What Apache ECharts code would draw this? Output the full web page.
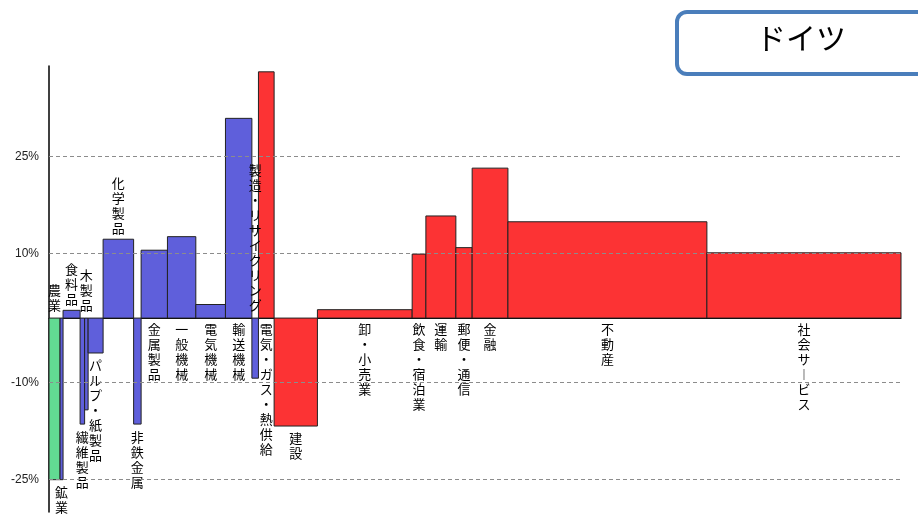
<!DOCTYPE html>
<html>
<head>
<meta charset="utf-8">
<script src="https://cdn.jsdelivr.net/npm/echarts@6/dist/echarts.min.js"></script>
<style>
  html, body { margin: 0; padding: 0; background: #fff; }
  #chart { width: 918px; height: 516px; }
</style>
</head>
<body>
<div id="chart"></div>
<script>
// industries, left to right
const categories = [
  '農業', '鉱業', '食料品', '繊維製品', '木製品', 'パルプ・紙製品', '化学製品',
  '非鉄金属', '金属製品', '一般機械', '電気機械', '輸送機械', '製造・リサイクリング',
  '電気・ガス・熱供給', '建設', '卸・小売業', '飲食・宿泊業', '運輸', '郵便・通信',
  '金融', '不動産', '社会サービス'
];
// bar height: change rate (%)
const growth = [
  -25.0, -25.0, 1.2, -16.4, -14.2, -5.4, 12.2,
  -16.4, 10.5, 12.6, 2.1, 30.9, -9.3,
  38.1, -16.7, 1.3, 9.9, 15.8, 10.9,
  23.2, 14.9, 10.1
];
// bar width: share of the total (%)
const shares = [
  1.30, 0.35, 2.00, 0.53, 0.41, 1.76, 3.58,
  0.88, 3.09, 3.33, 3.48, 3.10, 0.77,
  1.84, 5.08, 11.12, 1.61, 3.52, 1.91,
  4.20, 23.35, 22.78
];
// sector group of each industry
const sectors = [
  'primary', 'mfg', 'mfg', 'mfg', 'mfg', 'mfg', 'mfg',
  'mfg', 'mfg', 'mfg', 'mfg', 'mfg', 'mfg',
  'service', 'service', 'service', 'service', 'service', 'service',
  'service', 'service', 'service'
];
const tickLabels = [-25, -10, 10, 25];

// where each name sits: under the zero line, over it, or past the bar end
const labelSide = [
  'zeroAbove', 'end', 'end', 'end', 'zeroAbove', 'end', 'end',
  'end', 'zeroBelow', 'zeroBelow', 'zeroBelow', 'zeroBelow', 'zeroAbove',
  'zeroBelow', 'end', 'zeroBelow', 'zeroBelow', 'zeroBelow', 'zeroBelow',
  'zeroBelow', 'zeroBelow', 'zeroBelow'
];

const sectorColor = { primary: '#62da92', mfg: '#5f5fdb', service: '#fc3334' };
const jpFont = '"Noto Sans CJK JP", sans-serif';

let acc = 0;
const barData = categories.map((name, i) => {
  const start = acc;
  acc += shares[i];
  return [start, acc, growth[i], i];
});
const total = acc;

function verticalText(s) {
  return s.split('').map(c => (c === 'ー' ? '︱' : c)).join('\n');
}

function renderBar(params, api) {
  const x0 = api.value(0);
  const x1 = api.value(1);
  const v = api.value(2);
  const i = api.value(3);
  const pZero = api.coord([x0, 0]);
  const pEnd = api.coord([x1, v]);
  const left = pZero[0];
  const width = pEnd[0] - pZero[0];
  const y0 = pZero[1];
  const yv = pEnd[1];
  const cx = left + width / 2;

  let ty, va;
  const side = labelSide[i];
  if (side === 'zeroBelow') { ty = y0 + 3; va = 'top'; }
  else if (side === 'zeroAbove') { ty = y0 - 6; va = 'bottom'; }
  else if (v < 0) { ty = yv + 5; va = 'top'; }
  else { ty = yv - 4; va = 'bottom'; }

  return {
    type: 'group',
    children: [
      {
        type: 'rect',
        shape: { x: left, y: Math.min(y0, yv), width: width, height: Math.abs(yv - y0) },
        style: { fill: sectorColor[sectors[i]], stroke: '#222', lineWidth: 1 }
      },
      {
        type: 'text',
        z2: 100,
        style: {
          text: verticalText(categories[i]),
          x: cx, y: ty,
          align: 'center', verticalAlign: va,
          fontSize: 13, lineHeight: 15, fontFamily: jpFont,
          fill: '#000'
        }
      }
    ]
  };
}

const chart = echarts.init(document.getElementById('chart'));
chart.setOption({
  animation: false,
  backgroundColor: '#fff',
  title: {
    text: 'ドイツ',
    left: 801, top: 23, textAlign: 'center', padding: 0,
    textStyle: { fontSize: 30, fontWeight: 'normal', fontFamily: jpFont, color: '#000' }
  },
  graphic: [
    {
      type: 'rect', left: 675, top: 10, z: 0,
      shape: { width: 270, height: 62, r: 10 },
      style: { fill: '#fff', stroke: '#4a7ebb', lineWidth: 4 }
    }
  ],
  grid: { left: 49, right: 17, top: 66, bottom: 4 },
  xAxis: {
    type: 'value', min: 0, max: total,
    axisLine: { onZero: true, lineStyle: { color: '#000', width: 1 } },
    axisTick: { show: false }, axisLabel: { show: false }, splitLine: { show: false }
  },
  yAxis: {
    type: 'value', min: -30, max: 39, interval: 5,
    axisLine: { show: true, lineStyle: { color: '#000', width: 1.5 } },
    axisTick: { show: false },
    splitLine: { show: false },
    axisLabel: {
      margin: 10, fontSize: 12, color: '#222', fontFamily: 'Liberation Sans, Arial, sans-serif',
      formatter: v => (tickLabels.indexOf(v) >= 0 ? v + '%' : '')
    }
  },
  series: [
    {
      type: 'line', data: [], z: 1, silent: true,
      markLine: {
        symbol: 'none', silent: true, label: { show: false },
        lineStyle: { type: [4, 3], color: '#8c8c8c', width: 1 },
        data: tickLabels.map(v => ({ yAxis: v }))
      }
    },
    {
      type: 'custom', z: 2,
      renderItem: renderBar,
      encode: { x: [0, 1], y: 2 },
      data: barData
    }
  ]
});
</script>
</body>
</html>
